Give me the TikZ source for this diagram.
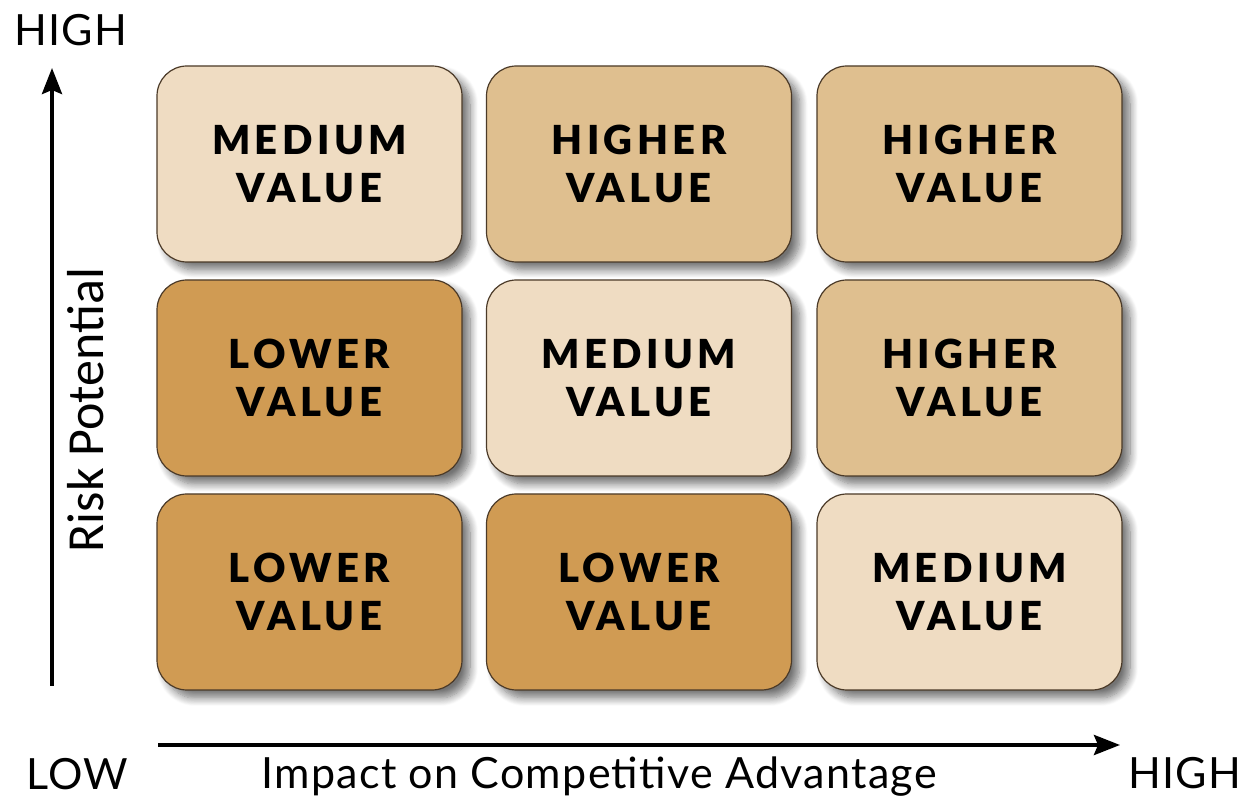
\documentclass[tikz,border=0pt]{standalone}
\usepackage{fontspec}
\setmainfont{Lato}
\newfontfamily\boxfont[LetterSpace=11]{Lato Black}
\newfontfamily\axisfont[LetterSpace=3]{Lato}
\newfontfamily\sidefont{Carlito}
\usetikzlibrary{arrows.meta,shadows.blur}

\definecolor{medfill}{HTML}{EFDCC2}
\definecolor{highfill}{HTML}{DFBF8F}
\definecolor{lowfill}{HTML}{D09B53}
\definecolor{boxline}{HTML}{4B3A28}

\tikzset{
  valbox/.style={draw=boxline,line width=0.6pt,rounded corners=15pt,
    minimum width=152.5pt,minimum height=98pt,align=center,
    font=\boxfont\fontsize{20}{24}\selectfont,
    blur shadow={shadow xshift=4pt,shadow yshift=-4pt,shadow blur radius=4pt,
      shadow blur steps=10,shadow opacity=55}},
  axis/.style={line width=2pt,-{Stealth[length=13pt,width=10pt,inset=2pt]}},
  axislabel/.style={inner sep=0pt,font=\axisfont\fontsize{21.5}{25}\selectfont}
}

\begin{document}
\begin{tikzpicture}[x=0.5pt,y=0.5pt]
\useasboundingbox (0,0) rectangle (1252,803);
% top row
\node[valbox,fill=medfill] (r1c1) at (309.5,639) {MEDIUM\\VALUE};
\node[valbox,fill=highfill] (r1c2) at (639,639) {HIGHER\\VALUE};
\node[valbox,fill=highfill] (r1c3) at (969.5,639) {HIGHER\\VALUE};
% middle row
\node[valbox,fill=lowfill] (r2c1) at (309.5,425) {LOWER\\VALUE};
\node[valbox,fill=medfill] (r2c2) at (639,425) {MEDIUM\\VALUE};
\node[valbox,fill=highfill] (r2c3) at (969.5,425) {HIGHER\\VALUE};
% bottom row
\node[valbox,fill=lowfill] (r3c1) at (309.5,211) {LOWER\\VALUE};
\node[valbox,fill=lowfill] (r3c2) at (639,211) {LOWER\\VALUE};
\node[valbox,fill=medfill] (r3c3) at (969.5,211) {MEDIUM\\VALUE};
% axes
\coordinate (yfrom) at (52,117);
\coordinate (yto) at (52,735);
\coordinate (xfrom) at (158,58);
\coordinate (xto) at (1120,58);
\draw[axis] (yfrom) -- (yto);
\draw[axis] (xfrom) -- (xto);
% axis labels
\node[axislabel,anchor=base west] (yhigh) at (14,757) {HIGH};
\node[axislabel,anchor=base west] (xlow) at (26,14) {LOW};
\node[axislabel,anchor=base west] (xhigh) at (1128,15) {HIGH};
\node[axislabel,anchor=base] (xname) at (599,15) {Impact on Competitive Advantage};
\node[inner sep=0pt,font=\sidefont\fontsize{26}{30}\selectfont,rotate=90,anchor=base] (yname) at (103,393) {Risk Potential};
\end{tikzpicture}
\end{document}
